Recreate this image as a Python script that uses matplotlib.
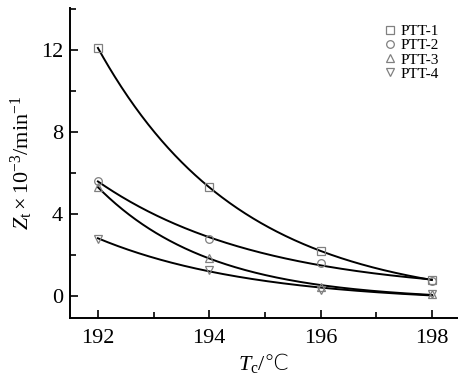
import numpy as np
import matplotlib
matplotlib.use("Agg")
import matplotlib.pyplot as plt
from matplotlib.ticker import MultipleLocator

plt.rcParams['font.family'] = ['Liberation Serif', 'DejaVu Serif']
plt.rcParams['mathtext.fontset'] = 'custom'
plt.rcParams['mathtext.rm'] = 'Liberation Serif'
plt.rcParams['mathtext.it'] = 'Liberation Serif:italic'
plt.rcParams['mathtext.sf'] = 'Noto Sans CJK SC:light'

# Data
Tc = [192, 194, 196, 198]
labels = ['PTT-1', 'PTT-2', 'PTT-3', 'PTT-4']
ptt1 = [12.1, 5.3, 2.2, 0.78]
ptt2 = [5.6, 2.8, 1.6, 0.75]
ptt3 = [5.3, 1.87, 0.45, 0.1]
ptt4 = [2.8, 1.27, 0.3, 0.08]
markers = ['s', 'o', '^', 'v']

def expfit(x, y):
    x = np.asarray(x, float); y = np.asarray(y, float)
    best = None
    for k in np.linspace(0.05, 2.0, 800):
        e = np.exp(-k * (x - x[0]))
        M = np.vstack([e, np.ones_like(e)]).T
        coef, *_ = np.linalg.lstsq(M, y, rcond=None)
        r = np.sum((M @ coef - y) ** 2)
        if best is None or r < best[0]:
            best = (r, k, coef)
    _, k, (A, c) = best
    return lambda t: A * np.exp(-k * (t - x[0])) + c

fig = plt.figure(figsize=(4.58, 3.78), dpi=100)
ax = fig.add_axes([0.153, 0.159, 0.847, 0.820])

xs = np.linspace(192, 198, 300)
for series, m, lab in zip([ptt1, ptt2, ptt3, ptt4], markers, labels):
    f = expfit(Tc, series)
    ax.plot(xs, f(xs), color='black', lw=1.4, zorder=2)
    ax.plot(Tc, series, linestyle='none', marker=m, markersize=5.5,
            markerfacecolor='none', markeredgecolor='#808080',
            markeredgewidth=0.9, label=lab, zorder=3)

ax.set_xlim(191.5, 198.47)
ax.set_ylim(-1.07, 14.05)
ax.xaxis.set_major_locator(MultipleLocator(2))
ax.xaxis.set_minor_locator(MultipleLocator(1))
ax.yaxis.set_major_locator(MultipleLocator(4))
ax.yaxis.set_minor_locator(MultipleLocator(2))
ax.tick_params(which='both', direction='in', width=1.2, labelsize=16)
ax.tick_params(which='major', length=6)
ax.tick_params(which='minor', length=4)
ax.tick_params(axis='x', pad=8)
ax.tick_params(axis='y', pad=5)
for s in ['top', 'right']:
    ax.spines[s].set_visible(False)
for s in ['left', 'bottom']:
    ax.spines[s].set_linewidth(1.4)

ax.set_xlabel(r'$T_{\mathrm{c}}/\mathsf{℃}$', fontsize=16, labelpad=2)
ax.set_ylabel(r'$Z_{\mathrm{t}}\times10^{-3}$/min$^{-1}$', fontsize=16, labelpad=4)

fig.legend(loc='upper left', bbox_to_anchor=(0.838, 0.935), frameon=False,
           fontsize=11, labelspacing=0.03, handletextpad=0.32,
           handlelength=0.8, borderpad=0, borderaxespad=0)

fig.savefig('out.png', dpi=100)
